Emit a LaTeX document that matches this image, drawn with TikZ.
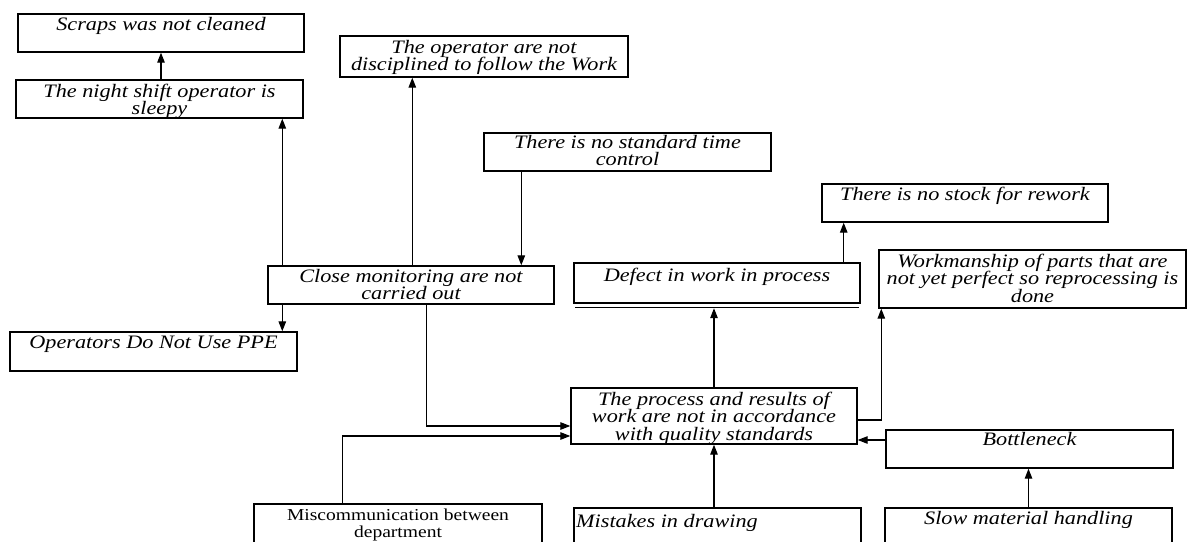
\documentclass[tikz,border=0pt]{standalone}
\usepackage{fontspec}
\setmainfont{Liberation Serif}[FakeStretch=1.17]
\usetikzlibrary{arrows.meta}
\begin{document}
\begin{tikzpicture}[x=1pt,y=-1pt,
  box/.style={draw=black, line width=1.4pt, rectangle, inner sep=0pt, fill=white},
  txt/.style={inner sep=0pt, align=center, anchor=north, font=\fontsize{19}{17.5}\selectfont\itshape},
  uptxt/.style={inner sep=0pt, align=center, anchor=north, font=\fontsize{16.7}{17}\selectfont},
  arr/.style={draw=black, line width=1.2pt, -{Triangle[length=10pt,width=7.5pt]}},
  con/.style={draw=black, line width=1.2pt}]
\useasboundingbox (0,0) rectangle (1189,541);
\clip (0,0) rectangle (1189,541);
\fill[white] (0,0) rectangle (1189,541);

% boxes
\node[box, minimum width=286pt, minimum height=38pt] (scraps) at (161,33) {};
\node[box, minimum width=287pt, minimum height=38pt] (night) at (159.5,99) {};
\node[box, minimum width=288pt, minimum height=41pt] (oper) at (484,56.5) {};
\node[box, minimum width=287pt, minimum height=38pt] (stime) at (627.5,152) {};
\node[box, minimum width=286pt, minimum height=38pt] (close) at (411,285) {};
\node[box, minimum width=287pt, minimum height=39pt] (ppe) at (153.5,351.5) {};
\node[box, minimum width=286pt, minimum height=40pt] (defect) at (717,283) {};
\node[box, minimum width=286pt, minimum height=38pt] (stock) at (965,203) {};
\node[box, minimum width=307pt, minimum height=58pt] (work) at (1032.5,279) {};
\node[box, minimum width=286pt, minimum height=56pt] (process) at (714,416) {};
\node[box, minimum width=287pt, minimum height=38pt] (bottle) at (1029.5,449) {};
\node[box, minimum width=288pt, minimum height=56pt] (misc) at (398,532) {};
\node[box, minimum width=287pt, minimum height=56pt] (mist) at (717.5,536) {};
\node[box, minimum width=287pt, minimum height=56pt] (slow) at (1028.5,536) {};

% extra double line under defect box
\draw[line width=1pt] ([xshift=2pt,yshift=-3.5pt]defect.south west) -- ([xshift=-2pt,yshift=-3.5pt]defect.south east);

% texts
\node[txt] (scraps-t) at (161,16) {\rule{0pt}{14pt}Scraps was not cleaned};
\node[txt] (night-t) at (159.5,83) {\rule{0pt}{14pt}The night shift operator is\\sleepy};
\node[txt] (oper-t) at (484,39) {\rule{0pt}{14pt}The operator are not\\disciplined to follow the Work};
\node[txt] (stime-t) at (627.5,134) {\rule{0pt}{14pt}There is no standard time\\control};
\node[txt] (close-t) at (411,268) {\rule{0pt}{14pt}Close monitoring are not\\carried out};
\node[txt] (ppe-t) at (153.5,334) {\rule{0pt}{14pt}Operators Do Not Use PPE};
\node[txt] (defect-t) at (717,267) {\rule{0pt}{14pt}Defect in work in process};
\node[txt] (stock-t) at (965,186) {\rule{0pt}{14pt}There is no stock for rework};
\node[txt] (work-t) at (1032.5,253) {\rule{0pt}{14pt}Workmanship of parts that are\\not yet perfect so reprocessing is\\done};
\node[txt] (process-t) at (714,391) {\rule{0pt}{14pt}The process and results of\\work are not in accordance\\with quality standards};
\node[txt] (bottle-t) at (1029.5,431) {\rule{0pt}{14pt}Bottleneck};
\node[txt, anchor=north west] (mist-t) at (576,513) {\rule{0pt}{14pt}Mistakes in drawing};
\node[txt] (slow-t) at (1028.5,510) {\rule{0pt}{14pt}Slow material handling};
\node[uptxt] (misc-t) at (398,507) {\rule{0pt}{13pt}Miscommunication between\\department};

% connectors
\draw[arr] (night.north -| scraps.south) -- (scraps.south);
\draw[arr] ([xshift=15pt]close.north west) -- ([xshift=15pt]close.north west |- night.south);
\draw[arr] ([xshift=145pt]close.north west) -- ([xshift=145pt]close.north west |- oper.south);
\draw[arr] ([xshift=38pt]stime.south west) -- ([xshift=38pt]stime.south west |- close.north);
\draw[arr] ([xshift=15pt]close.south west) -- ([xshift=15pt]close.south west |- ppe.north);
\draw[arr] ([xshift=159pt]close.south west) |- ([yshift=-10pt]process.west);
\draw[arr] ([xshift=89pt]misc.north west) |- ([yshift=-20pt]process.west);
\draw[arr] (mist.north -| process.south) -- (process.south);
\draw[arr] (process.north) -- ([yshift=-4.5pt]process.north |- defect.south);
\draw[arr] ([xshift=-17pt]defect.north east) -- ([xshift=-17pt]defect.north east |- stock.south);
\draw[arr] ([yshift=-4pt]process.east) -| ([xshift=3pt]work.south west);
\draw[arr] ([yshift=9pt]bottle.west) -- ([yshift=9pt]bottle.west -| process.east);
\draw[arr] (slow.north) -- (slow.north |- bottle.south);
\end{tikzpicture}
\end{document}
